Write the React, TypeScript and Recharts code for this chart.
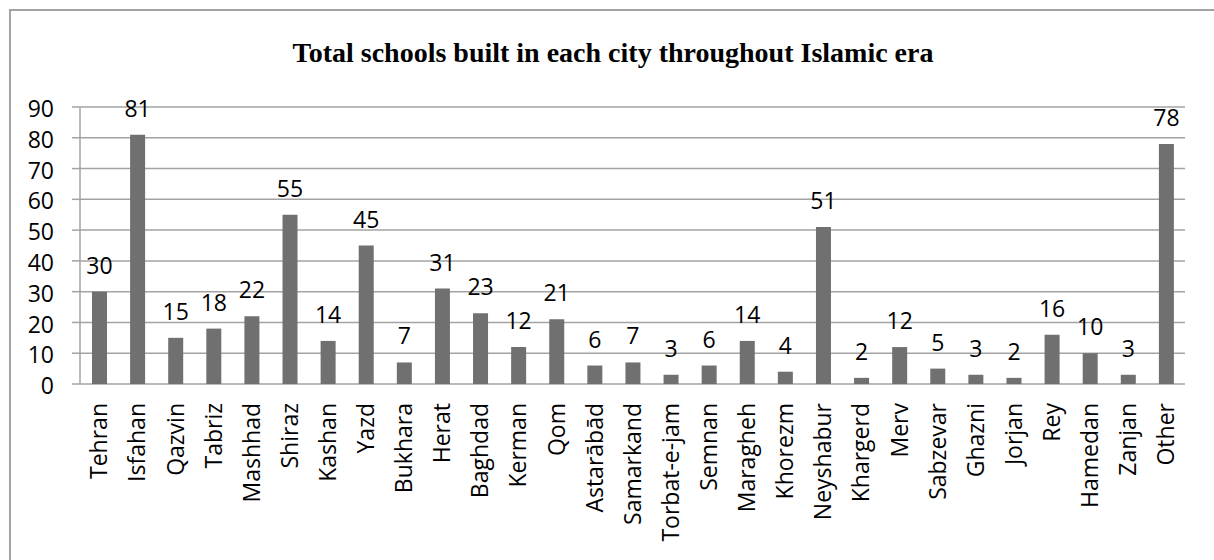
import React from 'react';
import { BarChart, Bar, XAxis, YAxis, CartesianGrid, LabelList } from 'recharts';

// Cities in chart order and number of schools built in each
const cities = [
  'Tehran', 'Isfahan', 'Qazvin', 'Tabriz', 'Mashhad', 'Shiraz', 'Kashan', 'Yazd',
  'Bukhara', 'Herat', 'Baghdad', 'Kerman', 'Qom', 'Astarābād', 'Samarkand',
  'Torbat-e-jam', 'Semnan', 'Maragheh', 'Khorezm', 'Neyshabur', 'Khargerd', 'Merv',
  'Sabzevar', 'Ghazni', 'Jorjan', 'Rey', 'Hamedan', 'Zanjan', 'Other',
];
const schools = [
  30, 81, 15, 18, 22, 55, 14, 45, 7, 31, 23, 12, 21, 6, 7, 3, 6, 14, 4, 51, 2, 12, 5, 3, 2, 16, 10, 3, 78,
];
const yTicks = [0, 10, 20, 30, 40, 50, 60, 70, 80, 90];
// Category boundaries for the tick marks between bars
const edgeTicks = [...cities.map((_, i) => i), cities.length];

const data = cities.map((city, i) => ({ city, schools: schools[i] }));

const FONT = '"Open Sans", sans-serif';
const FONT_SIZE = 23;
const GRID = '#a3a3a3';
const BAR = '#707070';

function CityTick(props: any) {
  const { x, y, payload } = props;
  return (
    <g transform={`translate(${x},${y})`}>
      <text
        transform="rotate(-90)"
        textAnchor="end"
        dy="0.36em"
        fontFamily={FONT}
        fontSize={FONT_SIZE}
        fill="#000"
      >
        {payload.value}
      </text>
    </g>
  );
}

export default function App() {
  return (
    <div style={{ position: 'absolute', left: 0, top: 0, width: 1214, height: 560, background: '#fff', overflow: 'hidden' }}>
      <div
        style={{
          position: 'absolute',
          left: 9,
          top: 9,
          width: 1300,
          height: 700,
          borderLeft: `2px solid ${GRID}`,
          borderTop: `2px solid ${GRID}`,
        }}
      />
      <div
        style={{
          position: 'absolute',
          left: 0,
          width: 1226,
          top: 39,
          textAlign: 'center',
          fontFamily: '"Liberation Serif", "Times New Roman", serif',
          fontWeight: 'bold',
          fontSize: 28,
          lineHeight: '28px',
          color: '#000',
          whiteSpace: 'nowrap',
        }}
      >
        Total schools built in each city throughout Islamic era
      </div>
      <div style={{ position: 'absolute', left: 0, top: 0 }}>
        <BarChart
          width={1214}
          height={560}
          data={data}
          margin={{ top: 107, right: 29, bottom: 0, left: 0 }}
          barCategoryGap={0}
        >
          <CartesianGrid vertical={false} stroke={GRID} strokeWidth={1.5} xAxisId="cat" />
          <XAxis
            xAxisId="edge"
            type="number"
            domain={[0, cities.length]}
            ticks={edgeTicks}
            allowDataOverflow
            height={0}
            tick={false}
            tickSize={8}
            axisLine={{ stroke: GRID, strokeWidth: 1.5 }}
            tickLine={{ stroke: GRID, strokeWidth: 1.5 }}
          />
          <XAxis
            xAxisId="cat"
            dataKey="city"
            type="category"
            interval={0}
            height={176}
            axisLine={false}
            tickLine={false}
            tickSize={0}
            tickMargin={19}
            tick={<CityTick />}
          />
          <YAxis
            domain={[0, 90]}
            ticks={yTicks}
            interval={0}
            width={80}
            tickSize={8}
            tickMargin={18}
            axisLine={{ stroke: GRID, strokeWidth: 1.5 }}
            tickLine={{ stroke: GRID, strokeWidth: 1.5 }}
            tick={{ fontFamily: FONT, fontSize: FONT_SIZE, fill: '#000', dy: 2 }}
          />
          <Bar dataKey="schools" xAxisId="cat" fill={BAR} barSize={15} isAnimationActive={false}>
            <LabelList
              dataKey="schools"
              position="top"
              offset={18}
              fill="#000"
              fontFamily={FONT}
              fontSize={FONT_SIZE}
            />
          </Bar>
        </BarChart>
      </div>
    </div>
  );
}
